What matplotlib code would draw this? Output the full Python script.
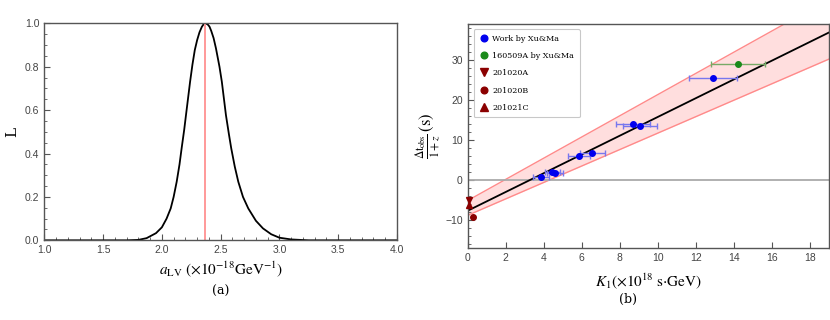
import matplotlib
matplotlib.use("Agg")
import matplotlib.pyplot as plt
import numpy as np
from matplotlib.ticker import MultipleLocator

plt.rcParams['mathtext.fontset'] = 'stix'

# ---- panel (a): likelihood curve
a_lv = [1.00, 1.70, 1.80, 1.87, 1.95, 2.00, 2.04, 2.075, 2.10, 2.126, 2.15, 2.168,
        2.19, 2.205, 2.24, 2.26, 2.28, 2.30, 2.32, 2.34, 2.355, 2.372, 2.39, 2.405,
        2.42, 2.44, 2.46, 2.49, 2.51, 2.545, 2.57, 2.59, 2.62, 2.65, 2.69, 2.735,
        2.80, 2.86, 2.93, 3.00, 3.10, 3.25, 4.00]
like = [0.0, 0.0, 0.002, 0.01, 0.033, 0.06, 0.10, 0.147, 0.20, 0.27, 0.35, 0.424,
        0.51, 0.577, 0.731, 0.81, 0.877, 0.923, 0.959, 0.984, 0.996, 1.0, 0.995, 0.985,
        0.965, 0.932, 0.885, 0.80, 0.731, 0.577, 0.49, 0.424, 0.34, 0.27, 0.20, 0.147,
        0.09, 0.055, 0.028, 0.012, 0.004, 0.0, 0.0]
a_best = 2.365
a_xticks = [1.0, 1.5, 2.0, 2.5, 3.0, 3.5, 4.0]
a_xticklabels = ['1.0', '1.5', '2.0', '2.5', '3.0', '3.5', '4.0']
a_yticks = [0.0, 0.2, 0.4, 0.6, 0.8, 1.0]
a_yticklabels = ['0.0', '0.2', '0.4', '0.6', '0.8', '1.0']

# ---- panel (b): points
xu_k = [3.85, 4.45, 4.60, 5.85, 6.55, 8.70, 9.05, 12.90]
xu_t = [0.6, 2.0, 1.6, 5.9, 6.6, 14.0, 13.5, 25.5]
xu_kerr = [0.40, 0.40, 0.42, 0.60, 0.65, 0.90, 0.90, 1.28]

grb160509_k, grb160509_t, grb160509_kerr = [14.2], [28.9], [1.42]
grb201020a_k, grb201020a_t = [0.08], [-5.0]
grb201020b_k, grb201020b_t = [0.26], [-9.3]
grb201021c_k, grb201021c_t = [0.08], [-6.2]

# fit line and band (intercept, slope)
fit_b, fit_m = -7.75, 2.35
up_b, up_m = -5.2, 2.655
lo_b, lo_m = -8.9, 2.06

frame_col = '#555555'
tick_col = '#444444'

fig = plt.figure(figsize=(8.3, 3.2), dpi=100)

# ---------------- (a)
ax1 = fig.add_axes([0.0534, 0.249, 0.4249, 0.678])
ax1.plot(a_lv, like, color='black', lw=1.3)
ax1.axvline(a_best, color='#ff9999', lw=1.4)
ax1.set_xlim(1.0, 4.0)
ax1.set_ylim(0, 1.0)
ax1.set_xticks(a_xticks, a_xticklabels)
ax1.set_yticks(a_yticks, a_yticklabels)
ax1.xaxis.set_minor_locator(MultipleLocator(0.1))
ax1.yaxis.set_minor_locator(MultipleLocator(0.05))
ax1.set_ylabel('L', family='serif', fontsize=11)
ax1.set_xlabel(r'$a_{\rm LV}\ (\times 10^{-18}\mathrm{GeV}^{-1})$', fontsize=11, labelpad=3)

# ---------------- (b)
ax2 = fig.add_axes([0.5635, 0.226, 0.4355, 0.699])
xx = np.array([0, 19.0])
ax2.fill_between(xx, lo_b + lo_m * xx, up_b + up_m * xx, color='#ffdede', lw=0)
ax2.plot(xx, up_b + up_m * xx, color='#ff8a8a', lw=1)
ax2.plot(xx, lo_b + lo_m * xx, color='#ff8a8a', lw=1)
ax2.axhline(0, color='#aaaaaa', lw=1.3)
ax2.plot(xx, fit_b + fit_m * xx, color='black', lw=1.3)

ax2.errorbar(xu_k, xu_t, xerr=xu_kerr, fmt='none', ecolor='#7777ee', elinewidth=1,
             capsize=2.5, capthick=1)
ax2.errorbar(grb160509_k, grb160509_t, xerr=grb160509_kerr, fmt='none', ecolor='#77aa66',
             elinewidth=1, capsize=2.5, capthick=1)
ax2.plot(xu_k, xu_t, 'o', color='#0000ee', ms=4, label='Work by Xu&Ma')
ax2.plot(grb160509_k, grb160509_t, 'o', color='#1a8a1a', ms=4, label='160509A by Xu&Ma')
ax2.plot(grb201020a_k, grb201020a_t, 'v', color='#8b0000', ms=4.5, label='201020A',
         clip_on=False, zorder=5)
ax2.plot(grb201020b_k, grb201020b_t, 'o', color='#8b0000', ms=4, label='201020B',
         clip_on=False, zorder=5)
ax2.plot(grb201021c_k, grb201021c_t, '^', color='#8b0000', ms=4.5, label='201021C',
         clip_on=False, zorder=5)

ax2.set_xlim(0, 19)
ax2.set_ylim(-17, 39)
ax2.xaxis.set_major_locator(MultipleLocator(2))
ax2.yaxis.set_major_locator(MultipleLocator(10))
ax2.yaxis.set_minor_locator(MultipleLocator(2))
ax2.xaxis.set_minor_locator(MultipleLocator(0.5))
ax2.set_xlabel(r'$K_1(\times 10^{18}\ \mathrm{s{\cdot}GeV})$', fontsize=11, labelpad=6)
ax2.set_ylabel(r'$\frac{\Delta\mathrm{t}_{\rm obs}}{1+z}\,\mathrm{(s)}$', fontsize=12,
               labelpad=2)
leg = ax2.legend(loc='upper left', prop={'family': 'serif', 'size': 5.8},
                 frameon=True, fancybox=True, handletextpad=0.4, borderpad=0.7,
                 labelspacing=1.15, handlelength=1.2, markerscale=1.2,
                 bbox_to_anchor=(0.005, 0.995))
leg.get_frame().set_edgecolor('#bbbbbb')
leg.get_frame().set_linewidth(0.8)

for ax in (ax1, ax2):
    for s in ax.spines.values():
        s.set_color(frame_col)
        s.set_linewidth(1.0)
    ax.tick_params(which='both', direction='in', colors=frame_col, labelcolor=tick_col,
                   labelsize=7.5, top=False, right=False)
    ax.tick_params(which='major', length=4)
    ax.tick_params(which='minor', length=2)
    for lab in ax.get_xticklabels() + ax.get_yticklabels():
        lab.set_family('Liberation Sans')

ax2.tick_params(axis='x', which='minor', length=0)

fig.text(0.2658, 0.078, '(a)', family='serif', fontsize=9, ha='center')
fig.text(0.757, 0.052, '(b)', family='serif', fontsize=9, ha='center')

fig.savefig('out.png', dpi=100)
